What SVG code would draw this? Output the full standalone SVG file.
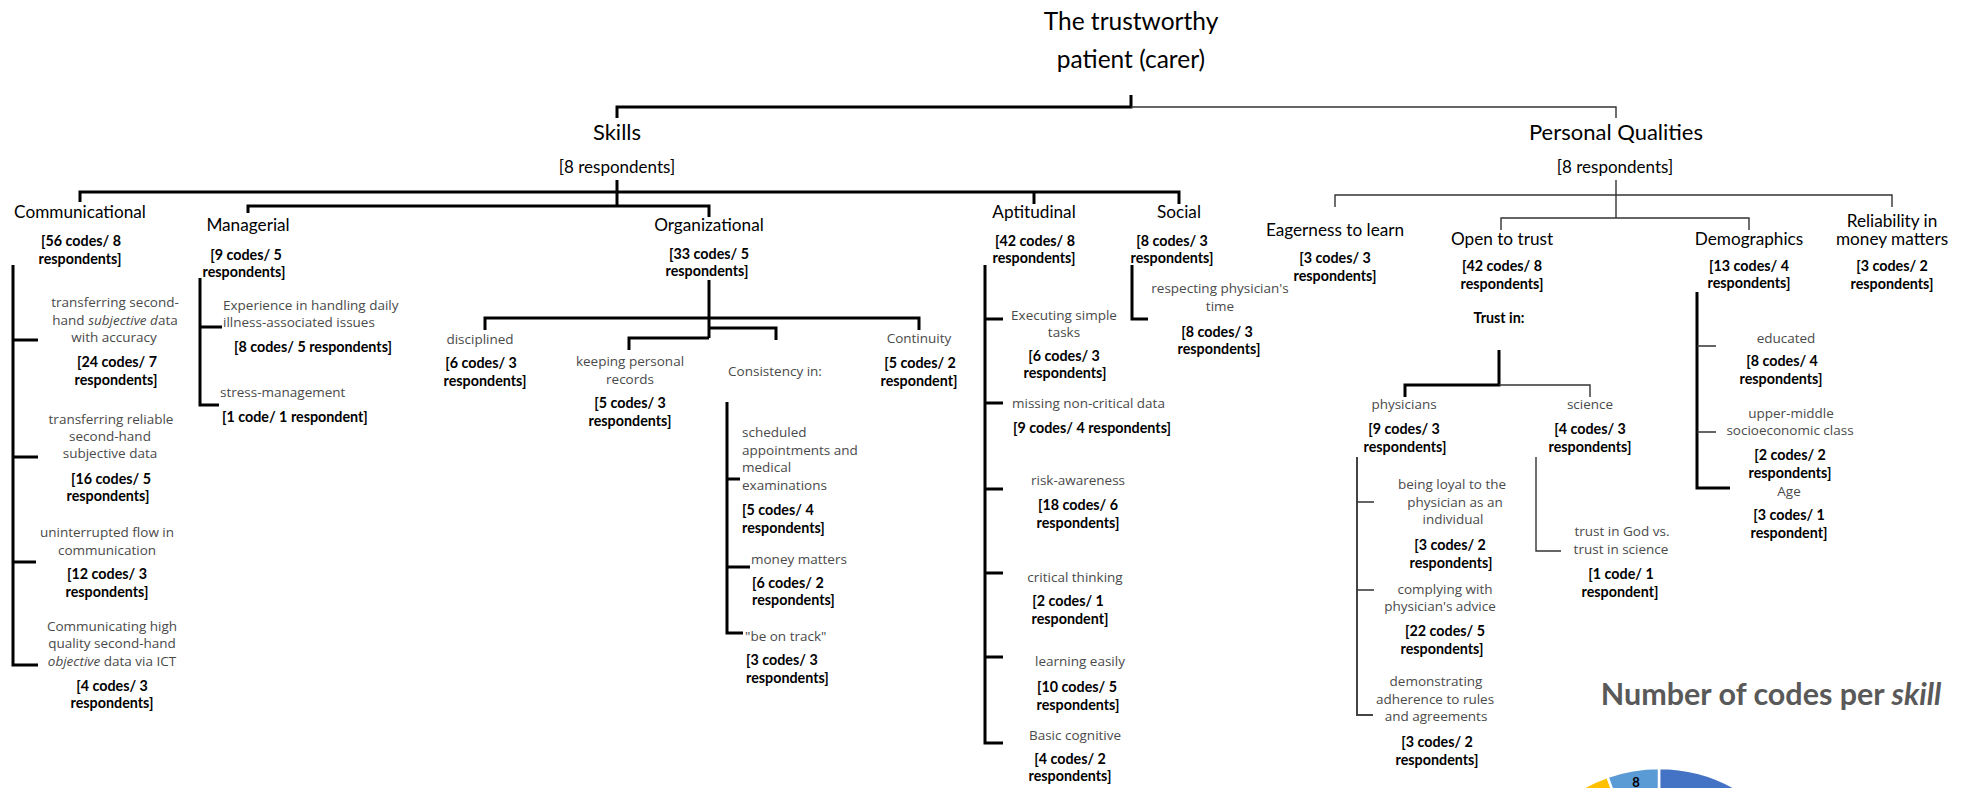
<svg xmlns="http://www.w3.org/2000/svg" width="1968" height="788" viewBox="0 0 1968 788">
  <style>
    text { font-family: Lato, "Liberation Sans", sans-serif; fill: #000; }
    .title { font-size: 24.5px; text-anchor: middle; }
    .h1 { font-size: 22px; text-anchor: middle; }
    .h1sub { font-size: 17px; text-anchor: middle; }
    .h2 { font-size: 17.2px; text-anchor: middle; }
    .cnt { font-size: 14.3px; font-weight: bold; text-anchor: middle; }
    .item { font-family: "Open Sans", "Liberation Sans", sans-serif; font-size: 13.5px; fill: #4a4a4a; text-anchor: middle; }
    .start { text-anchor: start; }
    .it { font-style: italic; }
    .thick { fill: none; stroke: #000; stroke-width: 3; }
    .thin { fill: none; stroke: #333; stroke-width: 1.4; }
    .mid { fill: none; stroke: #444; stroke-width: 2; }
    .chart-title { font-size: 30.5px; font-weight: bold; fill: #595959; text-anchor: middle; }
    .slice { stroke: #fff; stroke-width: 2.5; }
  </style>

  <!-- connectors -->
  <g id="connectors">
    <!-- root -->
    <path class="thick" d="M1131,95 V107 H617 V118"/>
    <path class="thin" d="M1131,107 H1616 V118"/>
    <!-- skills -->
    <path class="thick" d="M617,180 V206"/>
    <path class="thick" d="M80,202 V192 H1179 V204"/>
    <path class="thick" d="M1034,192 V204"/>
    <path class="thick" d="M248,213 V206 H709 V217"/>
    <!-- communicational -->
    <path class="thick" d="M13,265 V665 H38 M13,340 H38 M13,457 H38 M13,562 H36"/>
    <!-- managerial -->
    <path class="thick" d="M200,278 V405 H219 M200,327 H222"/>
    <!-- organizational -->
    <path class="thick" d="M709,280 V338"/>
    <path class="thick" d="M485,330 V318 H919 V330"/>
    <path class="thick" d="M709,328 H776 V340"/>
    <path class="thick" d="M709,338 H629 V350"/>
    <!-- consistency in -->
    <path class="thick" d="M727,402 V633 H743 M727,479 H740 M727,567 H750"/>
    <!-- aptitudinal -->
    <path class="thick" d="M985,265 V743 H1003 M985,319 H1003 M985,403 H1003 M985,489 H1003 M985,573 H1003 M985,657 H1003"/>
    <!-- social -->
    <path class="thick" d="M1132,265 V319 H1148"/>
    <!-- personal qualities -->
    <path class="thin" d="M1616,180 V218"/>
    <path class="thin" d="M1335,207 V195 H1892 V207"/>
    <path class="thin" d="M1501,230 V218 H1749 V230"/>
    <!-- trust in -->
    <path class="thick" d="M1499,350 V385 H1405 V397"/>
    <path class="thin" d="M1499,385 H1590 V397"/>
    <!-- physicians -->
    <path class="mid" d="M1357,457 V715 H1373"/>
    <path class="thin" d="M1357,502 H1374 M1357,590 H1374"/>
    <!-- science -->
    <path class="thin" d="M1536,457 V551 H1561"/>
    <!-- demographics -->
    <path class="thick" d="M1697,292 V488 H1730"/>
    <path class="thin" d="M1697,346 H1716 M1697,432 H1716"/>
  </g>

  <g id="root">
    <text class="title" x="1131" y="30">The trustworthy</text>
    <text class="title" x="1131" y="68">patient (carer)</text>
  </g>

  <g id="skills">
    <text class="h1" x="617" y="140">Skills</text>
    <text class="h1sub" x="617" y="173">[8 respondents]</text>
  </g>

  <g id="personal-qualities">
    <text class="h1" x="1616" y="140">Personal Qualities</text>
    <text class="h1sub" x="1615" y="173">[8 respondents]</text>
  </g>

  <!-- Skills branch -->
  <g id="communicational">
    <text class="h2" x="80" y="218">Communicational</text>
    <text class="cnt" x="81" y="246">[56 codes/ 8</text>
    <text class="cnt" x="80" y="264">respondents]</text>
  </g>
  <g id="comm-accuracy">
    <text class="item" x="115" y="307">transferring second-</text>
    <text class="item" x="115" y="325">hand <tspan class="it">subjective d</tspan>ata</text>
    <text class="item" x="114" y="342">with accuracy</text>
    <text class="cnt" x="117" y="367">[24 codes/ 7</text>
    <text class="cnt" x="116" y="385">respondents]</text>
  </g>
  <g id="comm-reliable">
    <text class="item" x="111" y="424">transferring reliable</text>
    <text class="item" x="110" y="441">second-hand</text>
    <text class="item" x="110" y="458">subjective data</text>
    <text class="cnt" x="111" y="484">[16 codes/ 5</text>
    <text class="cnt" x="108" y="501">respondents]</text>
  </g>
  <g id="comm-flow">
    <text class="item" x="107" y="537">uninterrupted flow in</text>
    <text class="item" x="107" y="555">communication</text>
    <text class="cnt" x="107" y="579">[12 codes/ 3</text>
    <text class="cnt" x="107" y="597">respondents]</text>
  </g>
  <g id="comm-ict">
    <text class="item" x="112" y="631">Communicating high</text>
    <text class="item" x="112" y="648">quality second-hand</text>
    <text class="item" x="112" y="666"><tspan class="it">objective</tspan> data via ICT</text>
    <text class="cnt" x="112" y="691">[4 codes/ 3</text>
    <text class="cnt" x="112" y="708">respondents]</text>
  </g>

  <g id="managerial">
    <text class="h2" x="248" y="231">Managerial</text>
    <text class="cnt" x="246" y="260">[9 codes/ 5</text>
    <text class="cnt" x="244" y="277">respondents]</text>
  </g>
  <g id="man-experience">
    <text class="item start" x="223" y="310">Experience in handling daily</text>
    <text class="item start" x="223" y="327">illness-associated issues</text>
    <text class="cnt" x="313" y="352">[8 codes/ 5 respondents]</text>
  </g>
  <g id="man-stress">
    <text class="item start" x="220" y="397">stress-management</text>
    <text class="cnt start" x="222" y="422">[1 code/ 1 respondent]</text>
  </g>

  <g id="organizational">
    <text class="h2" x="709" y="231">Organizational</text>
    <text class="cnt" x="709" y="259">[33 codes/ 5</text>
    <text class="cnt" x="707" y="276">respondents]</text>
  </g>
  <g id="org-disciplined">
    <text class="item" x="480" y="344">disciplined</text>
    <text class="cnt" x="481" y="368">[6 codes/ 3</text>
    <text class="cnt" x="485" y="386">respondents]</text>
  </g>
  <g id="org-records">
    <text class="item" x="630" y="366">keeping personal</text>
    <text class="item" x="630" y="384">records</text>
    <text class="cnt" x="630" y="408">[5 codes/ 3</text>
    <text class="cnt" x="630" y="426">respondents]</text>
  </g>
  <g id="org-consistency">
    <text class="item" x="775" y="376">Consistency in:</text>
  </g>
  <g id="org-continuity">
    <text class="item" x="919" y="343">Continuity</text>
    <text class="cnt" x="920" y="368">[5 codes/ 2</text>
    <text class="cnt" x="919" y="386">respondent]</text>
  </g>
  <g id="cons-appointments">
    <text class="item start" x="742" y="437">scheduled</text>
    <text class="item start" x="742" y="455">appointments and</text>
    <text class="item start" x="742" y="472">medical</text>
    <text class="item start" x="742" y="490">examinations</text>
    <text class="cnt start" x="742" y="515">[5 codes/ 4</text>
    <text class="cnt start" x="742" y="533">respondents]</text>
  </g>
  <g id="cons-money">
    <text class="item start" x="751" y="564">money matters</text>
    <text class="cnt start" x="752" y="588">[6 codes/ 2</text>
    <text class="cnt start" x="752" y="605">respondents]</text>
  </g>
  <g id="cons-track">
    <text class="item start" x="745" y="641">"be on track"</text>
    <text class="cnt start" x="746" y="665">[3 codes/ 3</text>
    <text class="cnt start" x="746" y="683">respondents]</text>
  </g>

  <g id="aptitudinal">
    <text class="h2" x="1034" y="218">Aptitudinal</text>
    <text class="cnt" x="1035" y="246">[42 codes/ 8</text>
    <text class="cnt" x="1034" y="263">respondents]</text>
  </g>
  <g id="apt-simple">
    <text class="item" x="1064" y="320">Executing simple</text>
    <text class="item" x="1064" y="337">tasks</text>
    <text class="cnt" x="1064" y="361">[6 codes/ 3</text>
    <text class="cnt" x="1065" y="378">respondents]</text>
  </g>
  <g id="apt-missing">
    <text class="item start" x="1012" y="408">missing non-critical data</text>
    <text class="cnt start" x="1013" y="433">[9 codes/ 4 respondents]</text>
  </g>
  <g id="apt-risk">
    <text class="item" x="1078" y="485">risk-awareness</text>
    <text class="cnt" x="1078" y="510">[18 codes/ 6</text>
    <text class="cnt" x="1078" y="528">respondents]</text>
  </g>
  <g id="apt-critical">
    <text class="item" x="1075" y="582">critical thinking</text>
    <text class="cnt" x="1068" y="606">[2 codes/ 1</text>
    <text class="cnt" x="1070" y="624">respondent]</text>
  </g>
  <g id="apt-learning">
    <text class="item" x="1080" y="666">learning easily</text>
    <text class="cnt" x="1077" y="692">[10 codes/ 5</text>
    <text class="cnt" x="1078" y="710">respondents]</text>
  </g>
  <g id="apt-basic">
    <text class="item" x="1075" y="740">Basic cognitive</text>
    <text class="cnt" x="1070" y="764">[4 codes/ 2</text>
    <text class="cnt" x="1070" y="781">respondents]</text>
  </g>

  <g id="social">
    <text class="h2" x="1179" y="218">Social</text>
    <text class="cnt" x="1172" y="246">[8 codes/ 3</text>
    <text class="cnt" x="1172" y="263">respondents]</text>
  </g>
  <g id="soc-time">
    <text class="item" x="1220" y="293">respecting physician's</text>
    <text class="item" x="1220" y="311">time</text>
    <text class="cnt" x="1217" y="337">[8 codes/ 3</text>
    <text class="cnt" x="1219" y="354">respondents]</text>
  </g>

  <!-- Personal qualities branch -->
  <g id="eagerness">
    <text class="h2" x="1335" y="236">Eagerness to learn</text>
    <text class="cnt" x="1335" y="263">[3 codes/ 3</text>
    <text class="cnt" x="1335" y="281">respondents]</text>
  </g>

  <g id="open-to-trust">
    <text class="h2" x="1502" y="245">Open to trust</text>
    <text class="cnt" x="1502" y="271">[42 codes/ 8</text>
    <text class="cnt" x="1502" y="289">respondents]</text>
    <text class="cnt" x="1499" y="323">Trust in:</text>
  </g>
  <g id="trust-physicians">
    <text class="item" x="1404" y="409">physicians</text>
    <text class="cnt" x="1404" y="434">[9 codes/ 3</text>
    <text class="cnt" x="1405" y="452">respondents]</text>
  </g>
  <g id="phys-loyal">
    <text class="item" x="1452" y="489">being loyal to the</text>
    <text class="item" x="1455" y="507">physician as an</text>
    <text class="item" x="1453" y="524">individual</text>
    <text class="cnt" x="1450" y="550">[3 codes/ 2</text>
    <text class="cnt" x="1451" y="568">respondents]</text>
  </g>
  <g id="phys-advice">
    <text class="item" x="1445" y="594">complying with</text>
    <text class="item" x="1440" y="611">physician's advice</text>
    <text class="cnt" x="1445" y="636">[22 codes/ 5</text>
    <text class="cnt" x="1442" y="654">respondents]</text>
  </g>
  <g id="phys-rules">
    <text class="item" x="1436" y="686">demonstrating</text>
    <text class="item" x="1435" y="704">adherence to rules</text>
    <text class="item" x="1436" y="721">and agreements</text>
    <text class="cnt" x="1437" y="747">[3 codes/ 2</text>
    <text class="cnt" x="1437" y="765">respondents]</text>
  </g>
  <g id="trust-science">
    <text class="item" x="1590" y="409">science</text>
    <text class="cnt" x="1590" y="434">[4 codes/ 3</text>
    <text class="cnt" x="1590" y="452">respondents]</text>
  </g>
  <g id="sci-god">
    <text class="item" x="1622" y="536">trust in God vs.</text>
    <text class="item" x="1621" y="554">trust in science</text>
    <text class="cnt" x="1621" y="579">[1 code/ 1</text>
    <text class="cnt" x="1620" y="597">respondent]</text>
  </g>

  <g id="demographics">
    <text class="h2" x="1749" y="245">Demographics</text>
    <text class="cnt" x="1749" y="271">[13 codes/ 4</text>
    <text class="cnt" x="1749" y="288">respondents]</text>
  </g>
  <g id="demo-educated">
    <text class="item" x="1786" y="343">educated</text>
    <text class="cnt" x="1782" y="366">[8 codes/ 4</text>
    <text class="cnt" x="1781" y="384">respondents]</text>
  </g>
  <g id="demo-class">
    <text class="item" x="1791" y="418">upper-middle</text>
    <text class="item" x="1790" y="435">socioeconomic class</text>
    <text class="cnt" x="1790" y="460">[2 codes/ 2</text>
    <text class="cnt" x="1790" y="478">respondents]</text>
  </g>
  <g id="demo-age">
    <text class="item" x="1789" y="496">Age</text>
    <text class="cnt" x="1789" y="520">[3 codes/ 1</text>
    <text class="cnt" x="1789" y="538">respondent]</text>
  </g>

  <g id="reliability">
    <text class="h2" x="1892" y="227">Reliability in</text>
    <text class="h2" x="1892" y="245">money matters</text>
    <text class="cnt" x="1892" y="271">[3 codes/ 2</text>
    <text class="cnt" x="1892" y="289">respondents]</text>
  </g>

  <!-- pie chart: codes per skill (only its top edge falls inside the page) -->
  <g id="chart">
    <text class="chart-title" x="1771" y="705">Number of codes per <tspan font-style="italic">skill</tspan></text>
    <!-- centre 1659,922  r 154 ; 148 codes in total, clockwise from 12 o'clock -->
    <path class="slice" fill="#4472C4" d="M1659,922 L1659,768 A154,154 0 0,1 1765.7,1033.1 Z"/>
    <path class="slice" fill="#FFC000" d="M1659,922 L1528.1,1003.1 A154,154 0 0,1 1607.6,776.8 Z"/>
    <path class="slice" fill="#5B9BD5" d="M1659,922 L1607.6,776.8 A154,154 0 0,1 1659,768 Z"/>
    <text x="1636" y="787" font-size="13" font-weight="bold" fill="#404040" text-anchor="middle">8</text>
  </g>
</svg>
